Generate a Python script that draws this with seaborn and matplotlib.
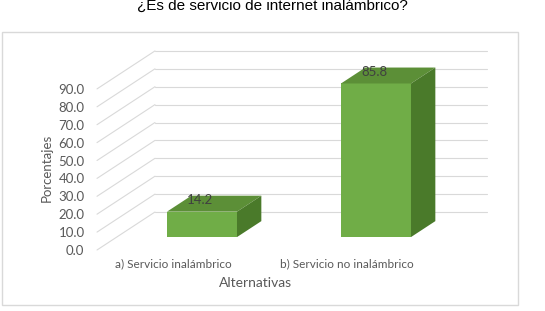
import matplotlib
matplotlib.use("Agg")
import matplotlib.pyplot as plt
import matplotlib.transforms as mtransforms
from matplotlib.patches import Polygon, Rectangle
import seaborn as sns

# data
categorias = ["a) Servicio inalámbrico", "b) Servicio no inalámbrico"]
porcentajes = [14.2, 85.8]
niveles = [0, 10, 20, 30, 40, 50, 60, 70, 80, 90]
titulo = "¿Es de servicio de internet inalámbrico?"

sns.set_theme(style="white")
plt.rcParams['font.family'] = ['Lato', 'DejaVu Sans']

W, H = 545, 311
fig = plt.figure(figsize=(W / 100, H / 100), dpi=100)
fig.patch.set_facecolor("white")

# axes box in pixels (front wall origin at left/bottom)
left, right, top, bottom = 97, 487, 45, 250
PX = 174  # pixels per category
ax = fig.add_axes([left / W, 1 - bottom / H, (right - left) / W, (bottom - top) / H])

sns.barplot(x=categorias, y=porcentajes, color="#70ad47", saturation=1, width=70 / PX, ax=ax, zorder=2)

# barplot resets the limits, so set them afterwards
xmin = -0.49
xmax = xmin + (right - left) / PX
ymax = (bottom - top) / 1.79
ax.set_xlim(xmin, xmax)
ax.set_ylim(0, ymax)

# oblique depth offset (data units)
DX = 58 / PX
DY = 38 / 1.79
d0, d1 = 0.34, 0.76

grid_col = "#d9d9d9"
for v in niveles:
    ax.plot([xmin, xmin + DX], [v, v + DY], color=grid_col, lw=0.8, zorder=0, clip_on=False)
    ax.plot([xmin + DX, xmax], [v + DY, v + DY], color=grid_col, lw=0.8, zorder=0, clip_on=False)

for p, val in zip(ax.patches, porcentajes):
    p.set_x(p.get_x() + d0 * DX)
    p.set_y(d0 * DY)
    p.set_edgecolor("none")
    x0 = p.get_x()
    x1 = x0 + p.get_width()
    y0 = p.get_y()
    y1 = y0 + p.get_height()
    ddx = (d1 - d0) * DX
    ddy = (d1 - d0) * DY
    ax.add_patch(Polygon([[x0, y1], [x1, y1], [x1 + ddx, y1 + ddy], [x0 + ddx, y1 + ddy]],
                         closed=True, facecolor="#5c8f37", edgecolor="none", zorder=2, clip_on=False))
    ax.add_patch(Polygon([[x1, y0], [x1 + ddx, y0 + ddy], [x1 + ddx, y1 + ddy], [x1, y1]],
                         closed=True, facecolor="#4a7a2a", edgecolor="none", zorder=2, clip_on=False))
    ax.text((x0 + x1) / 2 - 0.01, y1 + 0.72 * ddy, f"{val:.1f}", ha="center", va="center",
            fontsize=9.5, color="#404040", zorder=3)

sns.despine(ax=ax, left=True, bottom=True)
ax.set_yticks(niveles)
ax.set_yticklabels([f"{v:.1f}" for v in niveles], fontsize=9.5, color="#595959")
ax.set_xticks([0, 1])
ax.set_xticklabels(categorias, fontsize=8.5, color="#595959")
ax.tick_params(axis="y", length=0, pad=9)
ax.tick_params(axis="x", length=0, pad=6)
ax.set_xlabel("")
ax.set_ylabel("")
ax.patch.set_alpha(0)

# category labels sit a bit left of the bars in the original
shift = mtransforms.ScaledTranslation(-9 / 100, 0, fig.dpi_scale_trans)
for lbl in ax.get_xticklabels():
    lbl.set_transform(lbl.get_transform() + shift)

ax.text((256 - left) / (right - left), (bottom - 283) / (bottom - top), "Alternativas",
        transform=ax.transAxes, ha="center", va="center", fontsize=10, color="#595959")
ax.text((47 - left) / (right - left), (bottom - 168) / (bottom - top), "Porcentajes",
        transform=ax.transAxes, ha="center", va="center", rotation=90, fontsize=9.5, color="#595959")

# chart border
fig.add_artist(Rectangle((2 / W, 1 - 305 / H), 516 / W, 273 / H, transform=fig.transFigure,
                         fill=False, edgecolor="#d9d9d9", lw=1))

fig.text(0.5, 1 - 10 / H, titulo, ha="center", va="baseline", fontsize=11,
         family=["Liberation Sans", "DejaVu Sans"], color="#000000")

fig.savefig("out.png", dpi=100)
